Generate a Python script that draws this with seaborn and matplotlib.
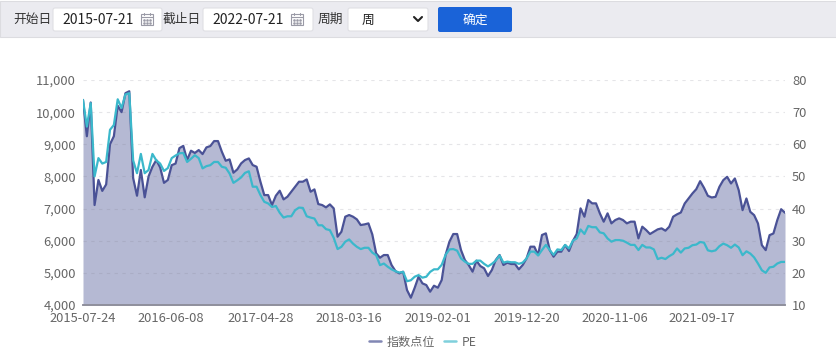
import pandas as pd
import seaborn as sns
import matplotlib.pyplot as plt
from matplotlib.patches import Rectangle, FancyBboxPatch
from matplotlib.lines import Line2D

# values, one point every two weeks
index_points = [
    10380, 9250, 10300, 7110, 7890, 7550, 7750, 9000, 9250, 10200, 10000, 10590, 10650, 7950, 7400, 8200,
    7350, 8000, 8300, 8510, 8280, 7800, 7890, 8350, 8400, 8880, 8950, 8510, 8800, 8730, 8820,
    8695, 8903, 8944, 9100, 9100, 8768, 8488, 8530, 8115, 8218, 8405, 8509, 8560, 8353, 8301, 7835,
    7420, 7420, 7109, 7399, 7555, 7285, 7368, 7524, 7679, 7835, 7835, 7907, 7524, 7596, 7140,
    7110, 7037, 7130, 7006, 6125, 6280, 6747, 6799, 6747, 6664, 6487, 6508, 6539, 6197, 5606, 5471,
    5554, 5554, 5243, 5056, 4984, 5036, 4465, 4227, 4538, 4880, 4673, 4621, 4414, 4600, 4538,
    4777, 5555, 5970, 6208, 6208, 5710, 5399, 5244, 5036, 5379, 5213, 5140, 4902, 5088, 5399, 5555,
    5244, 5316, 5275, 5275, 5109, 5244, 5451, 5814, 5814, 5555, 6177, 6229, 5710, 5503, 5659,
    5658, 5866, 5679, 5990, 6208, 7006, 6747, 7266, 7162, 7162, 6851, 6592, 6851, 6540, 6643, 6695,
    6643, 6540, 6592, 6592, 6073, 6436, 6332, 6208, 6281, 6353, 6384, 6312, 6436, 6747, 6820,
    6878, 7158, 7314, 7470, 7604, 7853, 7646, 7397, 7345, 7366, 7677, 7884, 7988, 7781, 7936, 7573,
    6951, 7314, 6899, 6795, 6536, 5862, 5707, 6173, 6225, 6640, 6980, 6870,
]
pe_points = [
    73.8, 65.5, 72.8, 50.0, 55.7, 54.0, 54.5, 64.5, 66.0, 74.0, 71.3, 75.5, 75.9, 55.0, 51.0, 57.0,
    51.0, 52.0, 57.0, 55.0, 54.0, 51.7, 52.6, 55.7, 56.5, 57.2, 57.3, 54.5, 55.5, 56.6, 55.7,
    52.5, 53.2, 53.5, 54.5, 54.5, 53.0, 52.7, 50.9, 48.0, 48.8, 49.7, 51.1, 51.6, 46.8, 46.8, 44.2,
    42.1, 41.6, 40.5, 40.8, 38.7, 37.2, 37.6, 37.6, 39.5, 40.3, 40.2, 37.6, 37.2, 36.9, 34.8,
    34.8, 33.6, 33.3, 30.9, 27.4, 28.1, 29.7, 30.4, 29.1, 28.1, 27.4, 27.8, 27.8, 26.3, 25.5, 22.4,
    22.9, 21.9, 21.1, 20.5, 20.1, 20.3, 17.4, 17.7, 18.8, 19.3, 18.5, 18.8, 20.3, 21.1, 21.1,
    22.5, 25.6, 27.3, 27.4, 26.9, 24.5, 23.5, 22.8, 22.8, 23.8, 23.8, 22.8, 22.0, 22.8, 23.8, 25.4,
    23.2, 23.5, 23.3, 23.3, 22.8, 23.2, 24.5, 26.6, 26.6, 25.4, 27.1, 28.7, 27.1, 25.6, 27.3,
    27.1, 28.7, 27.6, 30.0, 30.7, 33.5, 32.1, 34.6, 34.2, 34.2, 32.6, 32.3, 30.7, 29.7, 30.2, 30.2,
    30.0, 29.4, 28.7, 28.7, 27.1, 28.7, 27.9, 27.9, 27.3, 24.3, 24.7, 24.3, 25.2, 25.9, 27.6,
    26.3, 27.6, 27.8, 28.6, 28.8, 29.6, 29.4, 27.0, 26.7, 27.0, 28.3, 29.1, 28.6, 27.8, 28.8, 27.9,
    25.5, 26.7, 26.0, 24.8, 22.9, 20.8, 20.0, 21.7, 21.9, 22.9, 23.4, 23.4,
]
tick_dates = ['2015-07-24', '2016-06-08', '2017-04-28', '2018-03-16', '2019-02-01', '2019-12-20', '2020-11-06', '2021-09-17']
left_ticks = [4000, 5000, 6000, 7000, 8000, 9000, 10000, 11000]
right_ticks = [10, 20, 30, 40, 50, 60, 70, 80]
start_date = '2015-07-21'
end_date = '2022-07-21'

dates = pd.date_range('2015-07-24', periods=len(index_points), freq='14D')
data = pd.DataFrame({'date': dates, 'index_points': index_points, 'pe': pe_points})

sns.set_theme(style="white")
plt.rcParams['font.family'] = ['Noto Sans CJK SC', 'DejaVu Sans']

DARK = '#4a5296'
TEAL = '#3bb8cb'
GREY = '#666666'

fig = plt.figure(figsize=(8.37, 3.6), dpi=100)
ax = fig.add_axes([83 / 837, 1 - 305 / 360, 702 / 837, 225 / 360])

# left axis, filled index line
ax.fill_between(data['date'], data['index_points'], 4000, color='#b5b9d3', lw=0)
sns.lineplot(x='date', y='index_points', data=data, ax=ax, color=DARK, linewidth=1.6, legend=False)
ax.set_xlim(dates[0], dates[-1])
ax.set_ylim(4000, 11000)
ax.set_yticks(left_ticks)
ax.set_yticklabels([f'{v:,}' for v in left_ticks])
ax.set_xticks(pd.to_datetime(tick_dates))
ax.set_xticklabels(tick_dates)
ax.set_xlabel('')
ax.set_ylabel('')
ax.grid(axis='y', color='#808090', alpha=0.2, linestyle=(0, (3, 4)), linewidth=0.8)
ax.set_axisbelow(False)

# right axis, PE line
ax2 = ax.twinx()
sns.lineplot(x='date', y='pe', data=data, ax=ax2, color=TEAL, linewidth=1.6, legend=False)
ax2.set_ylim(10, 80)
ax2.set_yticks(right_ticks)
ax2.set_ylabel('')
ax2.grid(False)

for a in [ax, ax2]:
    for side in ['top', 'left', 'right']:
        a.spines[side].set_visible(False)
    a.spines['bottom'].set_color('#8f8f9c')
    a.spines['bottom'].set_linewidth(1.2)
    a.tick_params(axis='both', length=0, labelsize=9.3, labelcolor=GREY, pad=5)
ax.tick_params(axis='x', pad=5)

handles = [Line2D([0], [0], color='#8187b4', lw=1.8), Line2D([0], [0], color='#7fd0dc', lw=1.8)]
fig.legend(handles, ['指数点位', 'PE'], loc='center', bbox_to_anchor=(423 / 837, 1 - 342 / 360), ncol=2, frameon=False,
           fontsize=8.7, labelcolor=GREY, handlelength=1.0, handletextpad=0.5, columnspacing=0.7)

# top form bar, in pixel coordinates
bar = fig.add_axes([0, 0, 1, 1], zorder=5)
bar.set_xlim(0, 837)
bar.set_ylim(360, 0)
bar.axis('off')
bar.patch.set_alpha(0)
bar.add_patch(Rectangle((0, 1), 837, 36, facecolor='#ebebf0', edgecolor='#dcdce0', lw=0.8))


def input_box(x0, x1):
    bar.add_patch(FancyBboxPatch((x0, 8), x1 - x0, 23, boxstyle='round,pad=0,rounding_size=2',
                                 facecolor='white', edgecolor='#dfdfe4', lw=0.8))


def calendar_icon(x):
    bar.add_patch(Rectangle((x, 14), 12, 11, facecolor='white', edgecolor='#9a9aa6', lw=0.8))
    bar.plot([x, x + 12], [17, 17], color='#9a9aa6', lw=0.8)
    bar.plot([x + 3, x + 3], [13, 15], color='#9a9aa6', lw=0.8)
    bar.plot([x + 9, x + 9], [13, 15], color='#9a9aa6', lw=0.8)
    bar.plot([x + 3, x + 6, x + 9, x + 3, x + 6, x + 9], [20, 20, 20, 22.5, 22.5, 22.5], ls='', marker='s', ms=0.8, color='#9a9aa6')


input_box(53, 162)
input_box(203, 313)
input_box(348, 428)
calendar_icon(141)
calendar_icon(291)
bar.add_patch(FancyBboxPatch((438, 7), 74, 25, boxstyle='round,pad=0,rounding_size=2', facecolor='#1a63d8', edgecolor='none'))
bar.plot([414, 418, 422], [17, 21, 17], color='#222222', lw=1.5)

bar.text(13, 19.5, '开始日', fontsize=9.2, color='#333333', va='center')
bar.text(163, 19.5, '截止日', fontsize=9.2, color='#333333', va='center')
bar.text(318, 19.5, '周期', fontsize=9.2, color='#333333', va='center')
bar.text(62, 19.5, start_date, fontsize=10, color='#222222', va='center')
bar.text(212, 19.5, end_date, fontsize=10, color='#222222', va='center')
bar.text(362, 20, '周', fontsize=9.2, color='#222222', va='center')
bar.text(475, 20, '确定', fontsize=9.2, color='white', va='center', ha='center')

plt.savefig('out.png', dpi=100)
